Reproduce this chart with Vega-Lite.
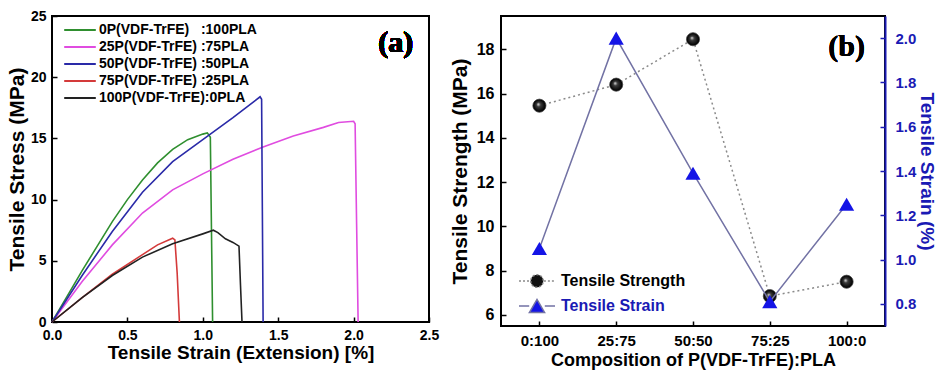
{
  "$schema": "https://vega.github.io/schema/vega-lite/v6.json",
  "padding": {"left": 5, "top": 8, "right": 0, "bottom": 0},
  "background": "white",
  "spacing": 8,
  "resolve": {"scale": {"color": "independent", "fill": "independent"}, "legend": {"color": "independent", "fill": "independent"}},
  "config": {
    "font": "Liberation Sans",
    "view": {"stroke": "black", "strokeWidth": 2},
    "axis": {
      "grid": false, "domain": false, "tickColor": "black", "tickWidth": 1.5, "labelOverlap": false, "labelFlush": false,
      "labelFont": "Liberation Sans", "labelFontWeight": "bold", "labelColor": "black",
      "titleFont": "Liberation Sans", "titleFontWeight": "bold", "titleColor": "black", "titleFontSize": 19
    },
    "legend": {"labelFont": "Liberation Sans", "labelFontWeight": "bold"}
  },
  "datasets": {
    "curves": [
      {"sample": "0P(VDF-TrFE)   :100PLA", "strain": 0, "stress": 0},
      {"sample": "0P(VDF-TrFE)   :100PLA", "strain": 0.1, "stress": 2.1},
      {"sample": "0P(VDF-TrFE)   :100PLA", "strain": 0.2, "stress": 4.2},
      {"sample": "0P(VDF-TrFE)   :100PLA", "strain": 0.3, "stress": 6.2},
      {"sample": "0P(VDF-TrFE)   :100PLA", "strain": 0.4, "stress": 8.2},
      {"sample": "0P(VDF-TrFE)   :100PLA", "strain": 0.5, "stress": 10.0},
      {"sample": "0P(VDF-TrFE)   :100PLA", "strain": 0.6, "stress": 11.6},
      {"sample": "0P(VDF-TrFE)   :100PLA", "strain": 0.7, "stress": 13.0},
      {"sample": "0P(VDF-TrFE)   :100PLA", "strain": 0.8, "stress": 14.1},
      {"sample": "0P(VDF-TrFE)   :100PLA", "strain": 0.9, "stress": 14.9},
      {"sample": "0P(VDF-TrFE)   :100PLA", "strain": 1.0, "stress": 15.35},
      {"sample": "0P(VDF-TrFE)   :100PLA", "strain": 1.03, "stress": 15.45},
      {"sample": "0P(VDF-TrFE)   :100PLA", "strain": 1.05, "stress": 15.1},
      {"sample": "0P(VDF-TrFE)   :100PLA", "strain": 1.055, "stress": 10},
      {"sample": "0P(VDF-TrFE)   :100PLA", "strain": 1.06, "stress": 5},
      {"sample": "0P(VDF-TrFE)   :100PLA", "strain": 1.065, "stress": 0},
      {"sample": "25P(VDF-TrFE) :75PLA", "strain": 0, "stress": 0},
      {"sample": "25P(VDF-TrFE) :75PLA", "strain": 0.2, "stress": 3.3},
      {"sample": "25P(VDF-TrFE) :75PLA", "strain": 0.4, "stress": 6.3},
      {"sample": "25P(VDF-TrFE) :75PLA", "strain": 0.6, "stress": 8.9},
      {"sample": "25P(VDF-TrFE) :75PLA", "strain": 0.8, "stress": 10.8},
      {"sample": "25P(VDF-TrFE) :75PLA", "strain": 1.0, "stress": 12.1},
      {"sample": "25P(VDF-TrFE) :75PLA", "strain": 1.2, "stress": 13.3},
      {"sample": "25P(VDF-TrFE) :75PLA", "strain": 1.4, "stress": 14.3},
      {"sample": "25P(VDF-TrFE) :75PLA", "strain": 1.6, "stress": 15.2},
      {"sample": "25P(VDF-TrFE) :75PLA", "strain": 1.8, "stress": 15.9},
      {"sample": "25P(VDF-TrFE) :75PLA", "strain": 1.9, "stress": 16.3},
      {"sample": "25P(VDF-TrFE) :75PLA", "strain": 2.0, "stress": 16.4},
      {"sample": "25P(VDF-TrFE) :75PLA", "strain": 2.01, "stress": 16.2},
      {"sample": "25P(VDF-TrFE) :75PLA", "strain": 2.02, "stress": 8},
      {"sample": "25P(VDF-TrFE) :75PLA", "strain": 2.03, "stress": 0},
      {"sample": "50P(VDF-TrFE) :50PLA", "strain": 0, "stress": 0},
      {"sample": "50P(VDF-TrFE) :50PLA", "strain": 0.2, "stress": 3.8},
      {"sample": "50P(VDF-TrFE) :50PLA", "strain": 0.4, "stress": 7.4},
      {"sample": "50P(VDF-TrFE) :50PLA", "strain": 0.6, "stress": 10.6},
      {"sample": "50P(VDF-TrFE) :50PLA", "strain": 0.8, "stress": 13.1},
      {"sample": "50P(VDF-TrFE) :50PLA", "strain": 1.0, "stress": 14.9},
      {"sample": "50P(VDF-TrFE) :50PLA", "strain": 1.2, "stress": 16.7},
      {"sample": "50P(VDF-TrFE) :50PLA", "strain": 1.38, "stress": 18.4},
      {"sample": "50P(VDF-TrFE) :50PLA", "strain": 1.39, "stress": 18.2},
      {"sample": "50P(VDF-TrFE) :50PLA", "strain": 1.395, "stress": 9},
      {"sample": "50P(VDF-TrFE) :50PLA", "strain": 1.4, "stress": 0},
      {"sample": "75P(VDF-TrFE) :25PLA", "strain": 0, "stress": 0},
      {"sample": "75P(VDF-TrFE) :25PLA", "strain": 0.2, "stress": 2.0},
      {"sample": "75P(VDF-TrFE) :25PLA", "strain": 0.4, "stress": 3.9},
      {"sample": "75P(VDF-TrFE) :25PLA", "strain": 0.6, "stress": 5.5},
      {"sample": "75P(VDF-TrFE) :25PLA", "strain": 0.7, "stress": 6.3},
      {"sample": "75P(VDF-TrFE) :25PLA", "strain": 0.8, "stress": 6.85},
      {"sample": "75P(VDF-TrFE) :25PLA", "strain": 0.815, "stress": 6.7},
      {"sample": "75P(VDF-TrFE) :25PLA", "strain": 0.83, "stress": 4},
      {"sample": "75P(VDF-TrFE) :25PLA", "strain": 0.845, "stress": 0},
      {"sample": "100P(VDF-TrFE):0PLA", "strain": 0, "stress": 0},
      {"sample": "100P(VDF-TrFE):0PLA", "strain": 0.2, "stress": 2.0},
      {"sample": "100P(VDF-TrFE):0PLA", "strain": 0.4, "stress": 3.8},
      {"sample": "100P(VDF-TrFE):0PLA", "strain": 0.6, "stress": 5.3},
      {"sample": "100P(VDF-TrFE):0PLA", "strain": 0.8, "stress": 6.4},
      {"sample": "100P(VDF-TrFE):0PLA", "strain": 1.0, "stress": 7.2},
      {"sample": "100P(VDF-TrFE):0PLA", "strain": 1.07, "stress": 7.5},
      {"sample": "100P(VDF-TrFE):0PLA", "strain": 1.1, "stress": 7.3},
      {"sample": "100P(VDF-TrFE):0PLA", "strain": 1.15, "stress": 6.8},
      {"sample": "100P(VDF-TrFE):0PLA", "strain": 1.2, "stress": 6.5},
      {"sample": "100P(VDF-TrFE):0PLA", "strain": 1.24, "stress": 6.2},
      {"sample": "100P(VDF-TrFE):0PLA", "strain": 1.25, "stress": 3},
      {"sample": "100P(VDF-TrFE):0PLA", "strain": 1.26, "stress": 0}
    ],
    "summary": [
      {"composition": "0:100", "strength": 15.45, "strain": 1.05},
      {"composition": "25:75", "strength": 16.4, "strain": 2.0},
      {"composition": "50:50", "strength": 18.45, "strain": 1.39},
      {"composition": "75:25", "strength": 6.85, "strain": 0.81},
      {"composition": "100:0", "strength": 7.5, "strain": 1.25}
    ]
  },
  "hconcat": [
    {
      "width": 377, "height": 306,
      "data": {"name": "curves"},
      "layer": [
        {
          "mark": {"type": "line", "strokeWidth": 1.6},
          "encoding": {
            "x": {"field": "strain", "type": "quantitative", "scale": {"domain": [0, 2.5], "nice": false},
              "axis": {"title": "Tensile Strain (Extension) [%]", "values": [0,0.25,0.5,0.75,1,1.25,1.5,1.75,2,2.25,2.5],
                "labelExpr": "round(datum.value*100) % 50 == 0 ? format(datum.value, '.1f') : ''", "labelFontSize": 14, "labelPadding": 11, "titlePadding": 1,
                "tickSize": {"expr": "round(datum.value*100) % 50 == 0 ? -5 : -3"}}},
            "y": {"field": "stress", "type": "quantitative", "scale": {"domain": [0, 25], "nice": false},
              "axis": {"title": "Tensile Stress (MPa)", "titleFontSize": 21, "values": [0,2.5,5,7.5,10,12.5,15,17.5,20,22.5,25],
                "labelExpr": "round(datum.value*10) % 50 == 0 ? format(datum.value, 'd') : ''", "labelFontSize": 14, "labelPadding": 11, "titlePadding": 3,
                "tickSize": {"expr": "round(datum.value*10) % 50 == 0 ? -5 : -3"}}},
            "color": {"field": "sample", "type": "nominal",
              "scale": {"domain": ["0P(VDF-TrFE)   :100PLA", "25P(VDF-TrFE) :75PLA", "50P(VDF-TrFE) :50PLA", "75P(VDF-TrFE) :25PLA", "100P(VDF-TrFE):0PLA"],
                "range": ["#2f8f2f", "#e04ce0", "#2a2aa8", "#d43a3a", "#222222"]},
              "legend": {"title": null, "orient": "none", "legendX": 21, "legendY": 7, "symbolType": "M-3.16,0L3.16,0", "symbolSize": 100, "symbolStrokeWidth": 2,
                "labelFontSize": 14, "rowPadding": 3, "labelLimit": 300, "labelOffset": 12, "labelExpr": "replace(datum.label, / /g, '\u00a0')"}}
          }
        },
        {
          "mark": {"type": "text", "font": "Liberation Serif", "fontWeight": "bold", "fontSize": 30, "baseline": "middle", "align": "center"},
          "encoding": {"x": {"datum": 2.28}, "y": {"datum": 22.8}, "text": {"value": "(a)"}}
        }
      ]
    },
    {
      "width": 384, "height": 310,
      "data": {"name": "summary"},
      "layer": [
        {
          "layer": [
            {
              "mark": {"type": "line", "color": "#8a8a8a", "strokeWidth": 1.5, "strokeDash": [2, 3]},
              "encoding": {
                "x": {"field": "composition", "type": "ordinal", "sort": null, "scale": {"type": "point", "padding": 0.5},
                  "axis": {"title": "Composition of P(VDF-TrFE):PLA", "titleFontSize": 18, "labelAngle": 0, "labelFontSize": 15, "labelPadding": 12, "titlePadding": 3,
                    "tickSize": -5}},
                "y": {"field": "strength", "type": "quantitative", "scale": {"domain": [5.5, 19.5], "nice": false},
                  "axis": {"title": "Tensile Strength (MPa)", "titleFontSize": 21, "values": [6,7,8,9,10,11,12,13,14,15,16,17,18,19],
                    "labelExpr": "datum.value % 2 == 0 ? format(datum.value, 'd') : ''", "labelFontSize": 16, "labelPadding": 12, "titlePadding": 6,
                    "tickSize": {"expr": "datum.value % 2 == 0 ? -5 : -3"}}}
              }
            },
            {
              "mark": {"type": "point", "shape": "circle", "filled": true, "size": 170, "stroke": "#555", "strokeWidth": 1, "opacity": 1},
              "encoding": {
                "x": {"field": "composition", "type": "ordinal", "sort": null},
                "y": {"field": "strength", "type": "quantitative"},
                "fill": {"datum": "Tensile Strength", "type": "nominal", "scale": {"domain": ["Tensile Strength", "Tensile Strain"], "range": ["#111111", "#1414e6"]},
                  "legend": {"title": null, "orient": "none", "legendX": 28, "legendY": 257, "labelFontSize": 16, "rowPadding": 5, "symbolSize": 144, "labelOffset": 16,
                    "labelColor": {"expr": "datum.value === 'Tensile Strain' ? '#1a1ab4' : 'black'"},
                    "symbolType": {"expr": "datum.value === 'Tensile Strain' ? 'M-3,0L-1.3,0M1.3,0L3,0M0,-1.1L1.27,1.1L-1.27,1.1Z' : 'M-3,0L-1.15,0M1.15,0L3,0M-1.05,0A1.05,1.05 0 1,0 1.05,0A1.05,1.05 0 1,0 -1.05,0Z'"},
                    "symbolStrokeColor": {"expr": "datum.value === 'Tensile Strain' ? '#7272a4' : '#8a8a8a'"},
                    "symbolDash": {"expr": "datum.value === 'Tensile Strain' ? [1, 0] : [2, 2]"},
                    "symbolStrokeWidth": 1.5}}
              }
            },
            {
              "mark": {"type": "point", "shape": "circle", "filled": true, "size": 150, "opacity": 1,
                "fill": {"gradient": "radial", "x1": 0.4, "y1": 0.38, "r1": 0, "x2": 0.5, "y2": 0.5, "r2": 0.5,
                  "stops": [{"offset": 0, "color": "#e8e8e8"}, {"offset": 0.35, "color": "#3a3a3a"}, {"offset": 1, "color": "#000000"}]}},
              "encoding": {
                "x": {"field": "composition", "type": "ordinal", "sort": null},
                "y": {"field": "strength", "type": "quantitative"}
              }
            },
            {
              "mark": {"type": "text", "font": "Liberation Serif", "fontWeight": "bold", "fontSize": 30, "baseline": "middle", "align": "center"},
              "encoding": {"x": {"datum": "100:0"}, "y": {"datum": 18.1}, "text": {"value": "(b)"}}
            }
          ]
        },
        {
          "layer": [
            {
              "mark": {"type": "line", "color": "#7272a4", "strokeWidth": 1.5},
              "encoding": {
                "x": {"field": "composition", "type": "ordinal", "sort": null},
                "y": {"field": "strain", "type": "quantitative", "scale": {"domain": [0.7, 2.1], "nice": false},
                  "axis": {"title": "Tensile Strain (%)", "orient": "right", "values": [0.8,1.0,1.2,1.4,1.6,1.8,2.0], "format": ".1f",
                    "labelFontSize": 15, "labelPadding": 15, "titlePadding": 1, "tickSize": -5,
                    "domain": true, "domainColor": "#1a1ab4", "domainWidth": 2, "tickColor": "#1a1ab4", "labelColor": "#1a1ab4", "titleColor": "#1a1ab4"}}
              }
            },
            {
              "mark": {"type": "point", "shape": "triangle-up", "filled": true, "size": 230, "opacity": 1},
              "encoding": {
                "x": {"field": "composition", "type": "ordinal", "sort": null},
                "y": {"field": "strain", "type": "quantitative"},
                "fill": {"datum": "Tensile Strain", "type": "nominal", "legend": null}
              }
            }
          ]
        }
      ],
      "resolve": {"scale": {"y": "independent"}}
    }
  ]
}
